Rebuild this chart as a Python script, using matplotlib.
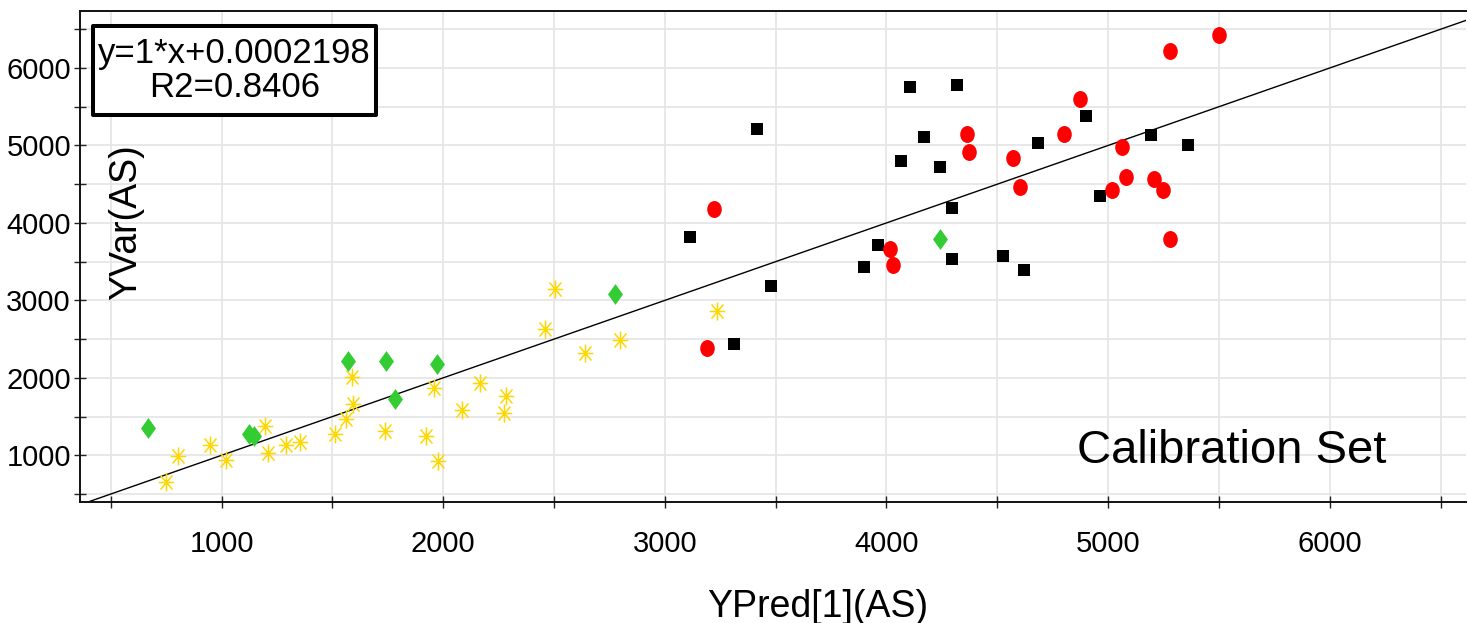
import numpy as np
import matplotlib
matplotlib.use("Agg")
import matplotlib.pyplot as plt
from matplotlib.path import Path
from matplotlib.transforms import Affine2D
from matplotlib.patches import Rectangle
from matplotlib.ticker import MultipleLocator
from matplotlib import font_manager

plt.rcParams['font.family'] = ['Liberation Sans', 'DejaVu Sans']

# -----------------------------
# data
# -----------------------------
red_x = [5500, 5281, 4873, 4362, 4801, 4372, 4571, 5061, 4602, 5082,
         5019, 5207, 5249, 5281, 3223, 4017, 4028, 3191]
red_y = [6424, 6217, 5596, 5149, 5149, 4911, 4838, 4981, 4463, 4596,
         4424, 4567, 4424, 3798, 4186, 3665, 3458, 2388]

black_x = [4318, 4105, 3414, 4168, 4064, 4240, 4682, 4899, 5192, 5359,
           4962, 4294, 3960, 3897, 4294, 4524, 4619, 3112, 3477, 3310]
black_y = [5787, 5752, 5208, 5105, 4794, 4717, 5027, 5376, 5131, 5001,
           4342, 4199, 3721, 3432, 3536, 3578, 3397, 3824, 3190, 2440]

green_x = [667, 1122, 1148, 1569, 1743, 1783, 1973, 2775, 4240]
green_y = [1353, 1281, 1246, 2212, 2212, 1724, 2181, 3083, 3798]

yellow_x = [801, 747, 947, 1019, 1198, 1210, 1291, 1355, 1510, 1562,
            1593, 1587, 1738, 1920, 1975, 1959, 2083, 2167, 2281, 2272,
            2504, 2459, 2639, 2797, 3235]
yellow_y = [991, 655, 1138, 935, 1379, 1030, 1138, 1172, 1281, 1475,
            1660, 2005, 1314, 1246, 926, 1863, 1591, 1928, 1767, 1552,
            3147, 2630, 2320, 2488, 2867]

slope = 1
intercept = 0.0002198
r2 = 0.8406

xlim = (361, 6615)
ylim = (397, 6736)

# tick label font (narrow digits like the original, if present)
narrow = 'Liberation Sans Narrow'
names = {f.name for f in font_manager.fontManager.ttflist}
tick_font = narrow if narrow in names else 'Liberation Sans'

# custom markers
ellipse = Path.unit_circle().transformed(Affine2D().scale(0.86, 1.0))
diamond = Path([(0, 1), (0.72, 0), (0, -1), (-0.72, 0), (0, 1)], closed=True)
star = Path([(-0.86, 0), (0.86, 0), (0, -1), (0, 1),
             (-0.66, -0.78), (0.66, 0.78), (-0.66, 0.78), (0.66, -0.78)],
            [Path.MOVETO, Path.LINETO] * 4)

fig = plt.figure(figsize=(14.68, 6.23), dpi=100)
ax = fig.add_axes([80 / 1468, 1 - 502 / 623, 1386 / 1468, 491 / 623])

ax.set_xlim(*xlim)
ax.set_ylim(*ylim)

# grid every 500
for a in (ax.xaxis, ax.yaxis):
    a.set_major_locator(MultipleLocator(1000))
    a.set_minor_locator(MultipleLocator(500))
ax.grid(True, which='both', color='#e6e6e6', linewidth=1.3, zorder=0)
ax.set_axisbelow(True)

ax.tick_params(which='both', direction='inout', length=9, width=1.0, color='#222222')
ax.tick_params(axis='x', which='major', pad=16, labelsize=21)
ax.tick_params(axis='y', which='major', pad=2, labelsize=21)
for lab in ax.get_xticklabels() + ax.get_yticklabels():
    lab.set_fontfamily(tick_font)

for s in ('left', 'bottom', 'top'):
    ax.spines[s].set_linewidth(1.4)
    ax.spines[s].set_color('#111111')
ax.spines['right'].set_visible(False)

# regression line
ax.axline((0, intercept), slope=slope, color='black', linewidth=1.0, zorder=2)

ax.plot(yellow_x, yellow_y, linestyle='none', marker=star, markersize=13,
        markerfacecolor='none', markeredgecolor='#FFD700', markeredgewidth=1.1, zorder=3)
ax.plot(green_x, green_y, linestyle='none', marker=diamond, markersize=15,
        color='#33CC33', markeredgewidth=0, zorder=3)
ax.plot(black_x, black_y, linestyle='none', marker='s', markersize=8.4,
        color='black', markeredgewidth=0, zorder=4)
ax.plot(red_x, red_y, linestyle='none', marker=ellipse, markersize=12.2,
        color='#FF0000', markeredgewidth=0, zorder=5)

# axis labels
ax.set_xlabel('YPred[1](AS)', fontsize=27, va='baseline', ha='center')
ax.xaxis.set_label_coords(0.532, -0.234)
ax.set_ylabel('YVar(AS)', fontsize=27, va='center', ha='center')
ax.yaxis.set_label_coords(0.0332, 0.569)

# equation box
ax.add_patch(Rectangle((0.00924, 0.7888), 0.2043, 0.1807, transform=ax.transAxes,
                       fill=True, facecolor='white', edgecolor='black',
                       linewidth=2.9, joinstyle='round', zorder=6))
ax.text(0.1114, 0.8935, f'y={slope}*x+{intercept}', transform=ax.transAxes,
        fontsize=25, ha='center', va='baseline', zorder=7)
ax.text(0.1114, 0.8242, f'R2={r2}', transform=ax.transAxes,
        fontsize=25, ha='center', va='baseline', zorder=7)

ax.text(0.7193, 0.0794, 'Calibration Set', transform=ax.transAxes,
        fontsize=34, ha='left', va='baseline', zorder=7)

fig.savefig('out.png', dpi=100)
